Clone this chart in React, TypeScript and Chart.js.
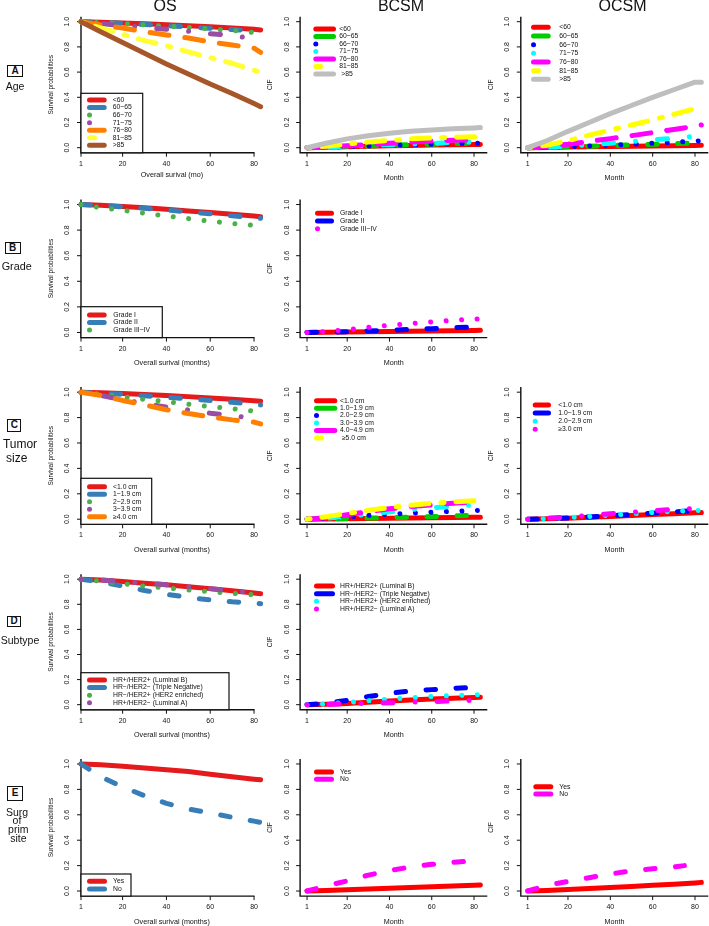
import React, { useEffect, useRef } from "react";
import { Chart, registerables } from "chart.js";
Chart.register(...registerables);

const FONT = '"Liberation Sans", Arial, Helvetica, sans-serif';

// ---------------- data ----------------
const months = [1, 10, 20, 30, 40, 50, 60, 70, 80, 83];
const monthsOcsmNo = [1, 10, 20, 30, 40, 50, 60, 70, 75];
const xTickLabels = [1, 20, 40, 60, 80];
const yTickLabels = [0, 0.2, 0.4, 0.6, 0.8, 1.0];

// Row A – Age
const ageLabels = ["<60", "60~65", "66~70", "71~75", "76~80", "81~85", ">85"];
const os_age_lt60 = [1, 0.995, 0.99, 0.983, 0.975, 0.968, 0.96, 0.95, 0.94, 0.935];
const os_age_60_65 = [1, 0.994, 0.987, 0.978, 0.968, 0.958, 0.948, 0.938, 0.928, 0.925];
const os_age_66_70 = [1, 0.993, 0.985, 0.975, 0.965, 0.955, 0.943, 0.93, 0.915, 0.908];
const os_age_71_75 = [1, 0.985, 0.97, 0.955, 0.94, 0.925, 0.905, 0.89, 0.865, 0.86];
const os_age_76_80 = [1, 0.975, 0.95, 0.92, 0.895, 0.87, 0.84, 0.815, 0.79, 0.757];
const os_age_81_85 = [1, 0.95, 0.9, 0.85, 0.81, 0.76, 0.715, 0.67, 0.615, 0.6];
const os_age_gt85 = [1, 0.92, 0.835, 0.75, 0.665, 0.585, 0.505, 0.43, 0.35, 0.325];

const bcsm_age_lt60 = [0, 0.003, 0.007, 0.011, 0.015, 0.018, 0.021, 0.023, 0.025, 0.026];
const bcsm_age_60_65 = [0, 0.004, 0.009, 0.014, 0.019, 0.024, 0.028, 0.033, 0.037, 0.038];
const bcsm_age_66_70 = [0, 0.004, 0.009, 0.014, 0.019, 0.023, 0.027, 0.031, 0.035, 0.036];
const bcsm_age_71_75 = [0, 0.005, 0.011, 0.017, 0.023, 0.029, 0.035, 0.04, 0.045, 0.046];
const bcsm_age_76_80 = [0, 0.006, 0.015, 0.025, 0.035, 0.045, 0.053, 0.059, 0.064, 0.066];
const bcsm_age_81_85 = [0, 0.012, 0.03, 0.045, 0.058, 0.07, 0.077, 0.082, 0.086, 0.087];
const bcsm_age_gt85 = [0, 0.035, 0.07, 0.095, 0.115, 0.13, 0.14, 0.15, 0.157, 0.16];

const ocsm_age_lt60 = [0, 0.002, 0.005, 0.007, 0.009, 0.011, 0.013, 0.015, 0.018, 0.02];
const ocsm_age_60_65 = [0, 0.003, 0.007, 0.012, 0.017, 0.022, 0.027, 0.032, 0.037, 0.04];
const ocsm_age_66_70 = [0, 0.003, 0.008, 0.014, 0.02, 0.027, 0.035, 0.043, 0.052, 0.055];
const ocsm_age_71_75 = [0, 0.004, 0.012, 0.022, 0.035, 0.048, 0.062, 0.075, 0.09, 0.095];
const ocsm_age_76_80 = [0, 0.01, 0.028, 0.05, 0.072, 0.095, 0.12, 0.145, 0.17, 0.18];
const ocsm_age_81_85 = [0, 0.02, 0.055, 0.1, 0.14, 0.18, 0.22, 0.265, 0.31, 0.32];
const ocsm_age_gt85 = [0, 0.055, 0.13, 0.2, 0.27, 0.335, 0.4, 0.46, 0.52, 0.52];

// Row B – Grade
const gradeLabels = ["Grade I", "Grade II", "Grade III~IV"];
const os_grade_1 = [1, 0.995, 0.985, 0.975, 0.963, 0.95, 0.937, 0.924, 0.91, 0.905];
const os_grade_2 = [1, 0.993, 0.982, 0.97, 0.957, 0.943, 0.928, 0.912, 0.896, 0.892];
const os_grade_34 = [1, 0.975, 0.955, 0.932, 0.91, 0.89, 0.87, 0.852, 0.838, 0.835];
const bcsm_grade_1 = [0, 0.002, 0.004, 0.006, 0.008, 0.01, 0.012, 0.014, 0.016, 0.017];
const bcsm_grade_2 = [0, 0.002, 0.005, 0.012, 0.018, 0.024, 0.03, 0.037, 0.043, 0.045];
const bcsm_grade_34 = [0, 0.008, 0.022, 0.04, 0.056, 0.07, 0.083, 0.095, 0.104, 0.107];

// Row C – Tumor size
const osSizeLabels = ["<1.0 cm", "1~1.9 cm", "2~2.9 cm", "3~3.9 cm", "\u22654.0 cm"];
const os_size_lt1 = [1, 0.995, 0.99, 0.982, 0.974, 0.965, 0.955, 0.945, 0.933, 0.928];
const os_size_1 = [1, 0.992, 0.983, 0.972, 0.96, 0.948, 0.935, 0.92, 0.905, 0.9];
const os_size_2 = [1, 0.985, 0.965, 0.943, 0.925, 0.905, 0.887, 0.87, 0.85, 0.845];
const os_size_3 = [1, 0.975, 0.94, 0.91, 0.883, 0.86, 0.835, 0.815, 0.795, 0.79];
const os_size_4 = [1, 0.975, 0.935, 0.9, 0.862, 0.832, 0.805, 0.782, 0.765, 0.75];
const bcsmSizeLabels = ["<1.0 cm", "1.0~1.9 cm", "2.0~2.9 cm", "3.0~3.9 cm", "4.0~4.9 cm", " \u22655.0 cm"];
const bcsm_size_lt1 = [0, 0.002, 0.004, 0.006, 0.008, 0.01, 0.012, 0.013, 0.015, 0.016];
const bcsm_size_1 = [0, 0.002, 0.005, 0.009, 0.013, 0.017, 0.021, 0.026, 0.031, 0.033];
const bcsm_size_2 = [0, 0.006, 0.017, 0.03, 0.04, 0.048, 0.055, 0.062, 0.068, 0.07];
const bcsm_size_3 = [0, 0.008, 0.022, 0.04, 0.058, 0.075, 0.09, 0.102, 0.112, 0.115];
const bcsm_size_4 = [0, 0.012, 0.035, 0.06, 0.082, 0.1, 0.112, 0.125, 0.137, 0.14];
const bcsm_size_5 = [0, 0.02, 0.045, 0.07, 0.092, 0.11, 0.125, 0.136, 0.145, 0.15];
const ocsmSizeLabels = ["<1.0 cm", "1.0~1.9 cm", "2.0~2.9 cm", "\u22653.0 cm"];
const ocsm_size_lt1 = [0, 0.003, 0.008, 0.015, 0.022, 0.03, 0.037, 0.044, 0.05, 0.052];
const ocsm_size_1 = [0, 0.004, 0.01, 0.018, 0.027, 0.037, 0.048, 0.058, 0.068, 0.07];
const ocsm_size_2 = [0, 0.005, 0.013, 0.022, 0.032, 0.042, 0.053, 0.062, 0.068, 0.07];
const ocsm_size_3 = [0, 0.008, 0.018, 0.03, 0.043, 0.055, 0.067, 0.078, 0.085, 0.086];

// Row D – Subtype
const subtypeLabels = [
  "HR+/HER2+ (Luminal B)",
  "HR\u2212/HER2\u2212 (Triple Negative)",
  "HR\u2212/HER2+ (HER2 enriched)",
  "HR+/HER2\u2212 (Luminal A)",
];
const os_sub_lumB = [1, 0.993, 0.982, 0.968, 0.955, 0.94, 0.925, 0.908, 0.89, 0.885];
const os_sub_tn = [1, 0.98, 0.945, 0.91, 0.88, 0.855, 0.835, 0.82, 0.81, 0.805];
const os_sub_her2 = [1, 0.985, 0.965, 0.945, 0.93, 0.915, 0.9, 0.887, 0.876, 0.873];
const os_sub_lumA = [1, 0.993, 0.982, 0.969, 0.955, 0.94, 0.925, 0.908, 0.892, 0.887];
const bcsm_sub_lumB = [0, 0.003, 0.01, 0.02, 0.03, 0.038, 0.045, 0.052, 0.058, 0.06];
const bcsm_sub_tn = [0, 0.01, 0.035, 0.065, 0.09, 0.11, 0.12, 0.13, 0.138, 0.14];
const bcsm_sub_her2 = [0, 0.006, 0.018, 0.032, 0.045, 0.055, 0.065, 0.073, 0.078, 0.08];
const bcsm_sub_lumA = [0, 0.002, 0.006, 0.01, 0.015, 0.02, 0.025, 0.03, 0.034, 0.035];

// Row E – Surgery of primary site
const surgLabels = ["Yes", "No"];
const os_surg_yes = [1, 0.993, 0.982, 0.968, 0.955, 0.94, 0.92, 0.9, 0.88, 0.875];
const os_surg_no = [1, 0.9, 0.82, 0.75, 0.69, 0.645, 0.615, 0.58, 0.55, 0.54];
const bcsm_surg_yes = [0, 0.004, 0.01, 0.016, 0.022, 0.028, 0.034, 0.04, 0.046, 0.048];
const bcsm_surg_no = [0, 0.04, 0.08, 0.125, 0.16, 0.19, 0.21, 0.225, 0.24, 0.245];
const ocsm_surg_yes = [0, 0.005, 0.012, 0.02, 0.028, 0.036, 0.045, 0.054, 0.064, 0.068];
const ocsm_surg_no = [0, 0.045, 0.075, 0.105, 0.135, 0.158, 0.175, 0.19, 0.2];

// ---------------- styles ----------------
const OS_COLORS = ["#E41A1C", "#377EB8", "#4DAF4A", "#984EA3", "#FF7F00", "#FFFF33", "#A65628"];
const RED = "#FF0000", GREEN = "#00CD00", BLUE = "#0000FF", CYAN = "#00FFFF", MAGENTA = "#FF00FF", YELLOW = "#FFFF00", GRAY = "#BEBEBE";
const LTY_ORDER = ["solid", "dashed", "dotted", "dotdash", "longdash", "twodash", "solid"];
const LTY: Record<string, { dash: number[]; legend: number[] }> = {
  solid: { dash: [], legend: [] },
  dashed: { dash: [9.5, 20.5], legend: [] },
  dotted: { dash: [0.01, 15.5], legend: [0.01, 40] },
  dotdash: { dash: [0.01, 22, 10, 22], legend: [0.01, 40] },
  longdash: { dash: [19, 16], legend: [] },
  twodash: { dash: [3, 12, 18, 12], legend: [5, 40] },
};

const rowsGeo = [
  { cellT: 0, cellB: 185, T: 16.66, B: 152.74 },
  { cellT: 185, cellB: 370, T: 199.4, B: 337.6 },
  { cellT: 370, cellB: 556, T: 387.1, B: 524.3 },
  { cellT: 556, cellB: 741, T: 574.2, B: 709.7 },
  { cellT: 741, cellB: 926, T: 758.9, B: 896.1 },
];
const colsGeo: Record<string, any> = {
  os: { cellL: 30, cellR: 268, L: 81, R: 262.8, xmin: 1, xmax: 84, xAxisEnd: 80, yTitle: "Survival probabilities" },
  bcsm: { cellL: 262, cellR: 492, L: 300.1, R: 487.3, xmin: -2.28, xmax: 86.28, yTitle: "CIF" },
  ocsm: { cellL: 482, cellR: 709, L: 520.8, R: 708.3, xmin: -2.28, xmax: 86.28, yTitle: "CIF" },
};

type Series = { label: string; y: number[]; x: number[]; color: string; lty: string };
const S = (label: string, y: number[], color: string, lty: string, x: number[] = months): Series => ({ label, y, x, color, lty });

const panels: any[] = [
  {
    r: 0, c: "os", xTitle: "Overall surival (mo)", xTitleDy: 22.5,
    legend: { y0: 100, dy: 7.55, sx0: 87, sx1: 106.7, tx: 112.7, boxR: 142.7, boxT: 93.3 },
    series: [os_age_lt60, os_age_60_65, os_age_66_70, os_age_71_75, os_age_76_80, os_age_81_85, os_age_gt85].map((v, i) =>
      S(ageLabels[i], v, OS_COLORS[i], LTY_ORDER[i])),
  },
  {
    r: 0, c: "bcsm", xTitle: "Month",
    legend: { y0: 29, dy: 7.5, sx0: 313.3, sx1: 336, tx: 339.3 },
    series: [bcsm_age_lt60, bcsm_age_60_65, bcsm_age_66_70, bcsm_age_71_75, bcsm_age_76_80, bcsm_age_81_85, bcsm_age_gt85].map((v, i) =>
      S(i === 6 ? " " + ageLabels[i] : ageLabels[i], v, [RED, GREEN, BLUE, CYAN, MAGENTA, YELLOW, GRAY][i], LTY_ORDER[i])),
  },
  {
    r: 0, c: "ocsm", xTitle: "Month",
    legend: { y0: 27.3, dy: 8.67, sx0: 531, sx1: 550.7, tx: 559.3 },
    series: [ocsm_age_lt60, ocsm_age_60_65, ocsm_age_66_70, ocsm_age_71_75, ocsm_age_76_80, ocsm_age_81_85, ocsm_age_gt85].map((v, i) =>
      S(ageLabels[i], v, [RED, GREEN, BLUE, CYAN, MAGENTA, YELLOW, GRAY][i], LTY_ORDER[i])),
  },
  {
    r: 1, c: "os", xTitle: "Overall surival (months)",
    legend: { y0: 315, dy: 7.5, sx0: 87, sx1: 106.7, tx: 113.3, boxR: 162.3, boxT: 306.7 },
    series: [os_grade_1, os_grade_2, os_grade_34].map((v, i) => S(gradeLabels[i], v, OS_COLORS[i], LTY_ORDER[i])),
  },
  {
    r: 1, c: "bcsm", xTitle: "Month",
    legend: { y0: 213.3, dy: 7.7, sx0: 315, sx1: 334, tx: 340 },
    series: [bcsm_grade_1, bcsm_grade_2, bcsm_grade_34].map((v, i) => S(gradeLabels[i], v, [RED, BLUE, MAGENTA][i], LTY_ORDER[i])),
  },
  {
    r: 2, c: "os", xTitle: "Overall surival (months)",
    legend: { y0: 486.7, dy: 7.5, sx0: 87, sx1: 107, tx: 113, boxR: 151.7, boxT: 478.3 },
    series: [os_size_lt1, os_size_1, os_size_2, os_size_3, os_size_4].map((v, i) => S(osSizeLabels[i], v, OS_COLORS[i], LTY_ORDER[i])),
  },
  {
    r: 2, c: "bcsm", xTitle: "Month",
    legend: { y0: 400.7, dy: 7.45, sx0: 314, sx1: 337.3, tx: 340 },
    series: [bcsm_size_lt1, bcsm_size_1, bcsm_size_2, bcsm_size_3, bcsm_size_4, bcsm_size_5].map((v, i) =>
      S(bcsmSizeLabels[i], v, [RED, GREEN, BLUE, CYAN, MAGENTA, YELLOW][i], LTY_ORDER[i])),
  },
  {
    r: 2, c: "ocsm", xTitle: "Month",
    legend: { y0: 405, dy: 8.1, sx0: 532.7, sx1: 551, tx: 558.3 },
    series: [ocsm_size_lt1, ocsm_size_1, ocsm_size_2, ocsm_size_3].map((v, i) =>
      S(ocsmSizeLabels[i], v, [RED, BLUE, CYAN, MAGENTA][i], LTY_ORDER[i])),
  },
  {
    r: 3, c: "os", xTitle: "Overall surival (months)",
    legend: { y0: 680, dy: 7.6, sx0: 87, sx1: 107, tx: 113, boxR: 229, boxT: 672.7 },
    series: [os_sub_lumB, os_sub_tn, os_sub_her2, os_sub_lumA].map((v, i) => S(subtypeLabels[i], v, OS_COLORS[i], LTY_ORDER[i])),
  },
  {
    r: 3, c: "bcsm", xTitle: "Month",
    legend: { y0: 586, dy: 7.67, sx0: 314, sx1: 335, tx: 340 },
    series: [bcsm_sub_lumB, bcsm_sub_tn, bcsm_sub_her2, bcsm_sub_lumA].map((v, i) =>
      S(subtypeLabels[i], v, [RED, BLUE, CYAN, MAGENTA][i], LTY_ORDER[i])),
  },
  {
    r: 4, c: "os", xTitle: "Overall surival (months)",
    legend: { y0: 881.3, dy: 7.7, sx0: 87, sx1: 107, tx: 113, boxR: 131, boxT: 874 },
    series: [os_surg_yes, os_surg_no].map((v, i) => S(surgLabels[i], v, OS_COLORS[i], LTY_ORDER[i])),
  },
  {
    r: 4, c: "bcsm", xTitle: "Month",
    legend: { y0: 772, dy: 7.3, sx0: 314, sx1: 334, tx: 340 },
    series: [bcsm_surg_yes, bcsm_surg_no].map((v, i) => S(surgLabels[i], v, [RED, MAGENTA][i], LTY_ORDER[i])),
  },
  {
    r: 4, c: "ocsm", xTitle: "Month",
    legend: { y0: 786.7, dy: 7.3, sx0: 533.3, sx1: 553.3, tx: 559.3 },
    series: [S(surgLabels[0], ocsm_surg_yes, RED, "solid"), S(surgLabels[1], ocsm_surg_no, MAGENTA, "dashed", monthsOcsmNo)],
  },
];

// ---------------- R-style axes + legend plugin ----------------
const rStyle = {
  id: "rStyle",
  beforeDatasetsDraw(chart: any, _a: any, o: any) {
    const ctx = chart.ctx;
    const xs = chart.scales.x;
    const ys = chart.scales.y;
    const { left: L, right: R, top: T, bottom: B } = chart.chartArea;
    ctx.save();
    ctx.setLineDash([]);
    ctx.strokeStyle = "#111";
    ctx.fillStyle = "#111";
    ctx.lineWidth = 1.4;
    const xEnd = o.xAxisEnd != null ? xs.getPixelForValue(o.xAxisEnd) + 0.5 : R;
    ctx.beginPath();
    ctx.moveTo(L, T);
    ctx.lineTo(L, B);
    ctx.lineTo(xEnd, B);
    ctx.stroke();
    ctx.lineWidth = 1;
    ctx.font = `7px ${FONT}`;
    for (const v of yTickLabels) {
      const py = ys.getPixelForValue(v);
      ctx.beginPath();
      ctx.moveTo(L, py);
      ctx.lineTo(L - 4, py);
      ctx.stroke();
      ctx.save();
      ctx.translate(L - 13.5, py);
      ctx.rotate(-Math.PI / 2);
      ctx.textAlign = "center";
      ctx.textBaseline = "middle";
      ctx.fillText(v.toFixed(1), 0, 0);
      ctx.restore();
    }
    ctx.textAlign = "center";
    ctx.textBaseline = "middle";
    for (const v of xTickLabels) {
      const px = xs.getPixelForValue(v);
      ctx.beginPath();
      ctx.moveTo(px, B);
      ctx.lineTo(px, B + 4);
      ctx.stroke();
      ctx.fillText(String(v), px, B + 11);
    }
    ctx.font = `7.2px ${FONT}`;
    ctx.fillText(o.xTitle, (L + R) / 2, B + o.xTitleDy);
    ctx.save();
    ctx.translate(L - 30, (T + B) / 2);
    ctx.rotate(-Math.PI / 2);
    ctx.font = `6.5px ${FONT}`;
    ctx.fillText(o.yTitle, 0, 0);
    ctx.restore();
    ctx.restore();
  },
  afterDatasetsDraw(chart: any, _a: any, o: any) {
    const ctx = chart.ctx;
    const { left: L, bottom: B } = chart.chartArea;
    const lg = o.legend;
    const ox = o.cellL, oy = o.cellT;
    ctx.save();
    if (lg.boxR != null) {
      ctx.fillStyle = "#ffffff";
      ctx.fillRect(L, lg.boxT - oy, lg.boxR - ox - L, B - (lg.boxT - oy));
      ctx.strokeStyle = "#111";
      ctx.lineWidth = 1.2;
      ctx.setLineDash([]);
      ctx.strokeRect(L, lg.boxT - oy, lg.boxR - ox - L, B - (lg.boxT - oy));
    }
    chart.data.datasets.forEach((ds: any, i: number) => {
      const y = lg.y0 + i * lg.dy - oy;
      ctx.strokeStyle = ds.borderColor;
      ctx.lineWidth = 5;
      ctx.lineCap = "round";
      ctx.setLineDash(ds.legendDash);
      ctx.beginPath();
      ctx.moveTo(lg.sx0 + 2.5 - ox, y);
      ctx.lineTo(lg.sx1 - 2.5 - ox, y);
      ctx.stroke();
      ctx.setLineDash([]);
      ctx.fillStyle = "#111";
      ctx.font = `6.8px ${FONT}`;
      ctx.textAlign = "left";
      ctx.textBaseline = "middle";
      ctx.fillText(ds.label, lg.tx - ox, y);
    });
    ctx.restore();
  },
};

function Panel({ p }: { p: any }) {
  const ref = useRef<HTMLCanvasElement>(null);
  const row = rowsGeo[p.r];
  const col = colsGeo[p.c];
  const w = col.cellR - col.cellL;
  const h = row.cellB - row.cellT;
  useEffect(() => {
    const n = p.series.length;
    const datasets = p.series.map((s: Series, i: number) => ({
      label: s.label,
      data: s.x.map((m, k) => ({ x: m, y: s.y[k] })),
      borderColor: s.color,
      backgroundColor: s.color,
      borderWidth: 5,
      borderDash: LTY[s.lty].dash,
      legendDash: LTY[s.lty].legend,
      borderCapStyle: "round",
      borderJoinStyle: "round",
      pointRadius: 0,
      tension: 0,
      fill: false,
      clip: false,
      order: n - i,
    }));
    const chart = new Chart(ref.current as HTMLCanvasElement, {
      type: "line",
      data: { datasets },
      options: {
        animation: false,
        responsive: false,
        maintainAspectRatio: false,
        events: [],
        layout: {
          padding: {
            left: col.L - col.cellL,
            right: col.cellR - col.R,
            top: row.T - row.cellT,
            bottom: row.cellB - row.B,
          },
        },
        scales: {
          x: { type: "linear", min: col.xmin, max: col.xmax, display: false },
          y: { type: "linear", min: -0.04, max: 1.04, display: false },
        },
        plugins: {
          legend: { display: false },
          tooltip: { enabled: false },
          rStyle: {
            xTitle: p.xTitle,
            xTitleDy: p.xTitleDy ?? 25.5,
            yTitle: col.yTitle,
            xAxisEnd: col.xAxisEnd,
            legend: p.legend,
            cellL: col.cellL,
            cellT: row.cellT,
          },
        },
      } as any,
      plugins: [rStyle as any],
    });
    return () => chart.destroy();
  }, []);
  return (
    <canvas
      ref={ref}
      width={w}
      height={h}
      style={{ position: "absolute", left: col.cellL, top: row.cellT, width: w, height: h }}
    />
  );
}

const colTitles = [
  { text: "OS", cx: 165 },
  { text: "BCSM", cx: 401 },
  { text: "OCSM", cx: 622.5 },
];
const rowBoxes = [
  { letter: "A", left: 7.3, top: 65, w: 15.4, h: 12.3 },
  { letter: "B", left: 4.7, top: 241.7, w: 16, h: 12.3 },
  { letter: "C", left: 7.3, top: 419.3, w: 14, h: 12.4 },
  { letter: "D", left: 7.3, top: 616, w: 13.4, h: 11.3 },
  { letter: "E", left: 6.7, top: 786, w: 16.6, h: 14.7 },
];
const rowTexts = [
  { text: "Age", cx: 15, cy: 86.7, fs: 10.5 },
  { text: "Grade", cx: 16.7, cy: 266, fs: 10.8 },
  { text: "Tumor", cx: 20, cy: 444, fs: 12 },
  { text: "size", cx: 16.7, cy: 457.7, fs: 12 },
  { text: "Subtype", cx: 20, cy: 640, fs: 10.5 },
  { text: "Surg", cx: 17, cy: 812.5, fs: 10.5 },
  { text: "of", cx: 17, cy: 820.7, fs: 10.5 },
  { text: "prim", cx: 18.3, cy: 829.5, fs: 10.5 },
  { text: "site", cx: 18.3, cy: 838.3, fs: 10.5 },
];

export default function App() {
  return (
    <div
      style={{
        position: "absolute",
        left: 0,
        top: 0,
        width: 709,
        height: 926,
        background: "#ffffff",
        fontFamily: FONT,
        color: "#111",
        overflow: "hidden",
      }}
    >
      {panels.map((p, i) => (
        <Panel key={i} p={p} />
      ))}
      {colTitles.map((t) => (
        <div
          key={t.text}
          style={{ position: "absolute", left: t.cx - 50, width: 100, top: -2, fontSize: 16, lineHeight: "16px", textAlign: "center" }}
        >
          {t.text}
        </div>
      ))}
      {rowBoxes.map((b) => (
        <div
          key={b.letter}
          style={{
            position: "absolute",
            left: b.left,
            top: b.top,
            width: b.w,
            height: b.h,
            boxSizing: "border-box",
            border: "1.4px solid #111",
            fontSize: 10,
            fontWeight: "bold",
            lineHeight: `${b.h - 2.8}px`,
            textAlign: "center",
          }}
        >
          {b.letter}
        </div>
      ))}
      {rowTexts.map((t, i) => (
        <div
          key={i}
          style={{
            position: "absolute",
            left: t.cx - 40,
            width: 80,
            top: t.cy - t.fs * 0.6,
            fontSize: t.fs,
            lineHeight: `${t.fs * 1.2}px`,
            textAlign: "center",
          }}
        >
          {t.text}
        </div>
      ))}
    </div>
  );
}
